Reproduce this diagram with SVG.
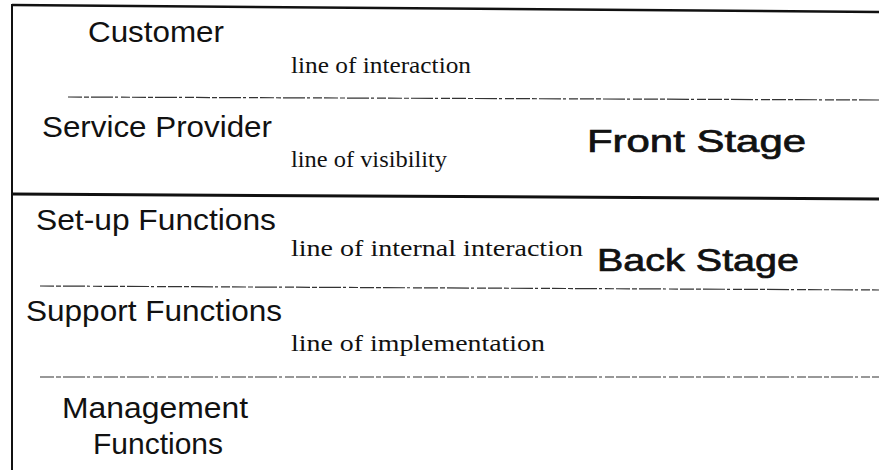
<svg xmlns="http://www.w3.org/2000/svg" width="879" height="471" viewBox="0 0 879 471">
<style>
.lane{font-family:"Liberation Sans",Arial,sans-serif;font-size:29px;fill:#111}
.stage{font-family:"Liberation Sans",Arial,sans-serif;font-size:32px;fill:#111;stroke:#111;stroke-width:0.7}
.lbl{font-family:"Liberation Serif","Times New Roman",serif;font-size:23px;fill:#111}
.solid{stroke:#111;fill:none}
.dash{stroke:#333;stroke-width:1.2;fill:none;stroke-dasharray:14 2 5 2 22 2 3 3 9 2}
</style>
<rect width="879" height="471" fill="#fff"/>
<g id="connectors">
<line class="solid" x1="12" y1="5" x2="879" y2="12" stroke-width="2.5"/>
<line class="solid" x1="12" y1="4" x2="12" y2="470" stroke-width="2"/>
<line class="solid" x1="12" y1="194" x2="879" y2="199" stroke-width="3"/>
<line class="dash" x1="68" y1="97" x2="879" y2="100"/>
<line class="dash" x1="40" y1="286" x2="879" y2="290"/>
<line class="dash" x1="40" y1="377" x2="879" y2="377"/>
</g>
<g id="customer"><text class="lane" x="88" y="42" textLength="136" lengthAdjust="spacingAndGlyphs">Customer</text></g>
<g id="interaction"><text class="lbl" x="291" y="73" textLength="180" lengthAdjust="spacingAndGlyphs">line of interaction</text></g>
<g id="service-provider"><text class="lane" x="42" y="137" textLength="230" lengthAdjust="spacingAndGlyphs">Service Provider</text></g>
<g id="visibility"><text class="lbl" x="291" y="167" textLength="156" lengthAdjust="spacingAndGlyphs">line of visibility</text></g>
<g id="front-stage"><text class="stage" x="587" y="152" textLength="219" lengthAdjust="spacingAndGlyphs">Front Stage</text></g>
<g id="setup"><text class="lane" x="36" y="230" textLength="240" lengthAdjust="spacingAndGlyphs">Set-up Functions</text></g>
<g id="internal"><text class="lbl" x="291" y="256" textLength="292" lengthAdjust="spacingAndGlyphs">line of internal interaction</text></g>
<g id="back-stage"><text class="stage" x="597" y="271" textLength="202" lengthAdjust="spacingAndGlyphs">Back Stage</text></g>
<g id="support"><text class="lane" x="26" y="321" textLength="256" lengthAdjust="spacingAndGlyphs">Support Functions</text></g>
<g id="implementation"><text class="lbl" x="291" y="351" textLength="254" lengthAdjust="spacingAndGlyphs">line of implementation</text></g>
<g id="management"><text class="lane" x="62" y="418" textLength="186" lengthAdjust="spacingAndGlyphs">Management</text><text class="lane" x="93" y="454" textLength="130" lengthAdjust="spacingAndGlyphs">Functions</text></g>
</svg>
